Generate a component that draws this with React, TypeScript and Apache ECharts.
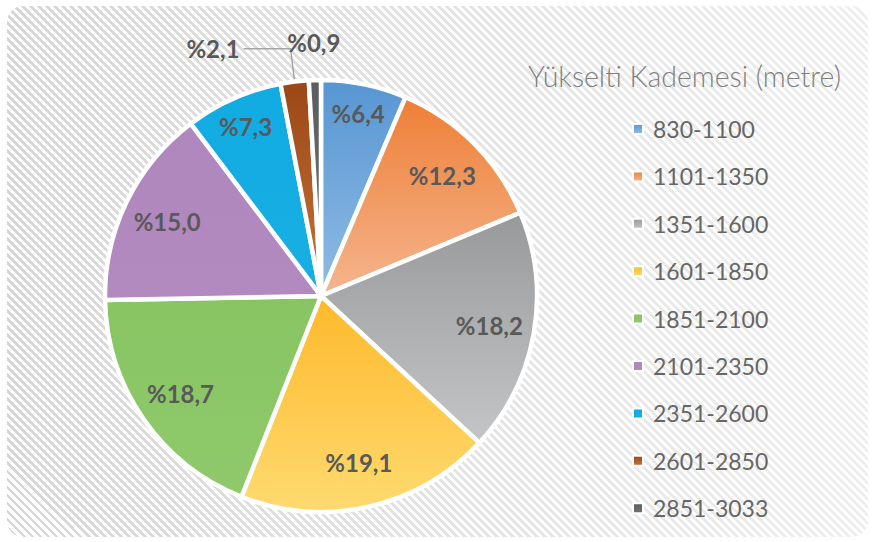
import React, { useEffect, useRef } from 'react';
import * as echarts from 'echarts';

const legendTitle = 'Yükselti Kademesi (metre)';
const categories = ['830-1100', '1101-1350', '1351-1600', '1601-1850', '1851-2100', '2101-2350', '2351-2600', '2601-2850', '2851-3033'];
const values = [6.4, 12.3, 18.2, 19.1, 18.7, 15.0, 7.3, 2.1, 0.9];
const topColors = ['#5796d3', '#ee7f36', '#97999a', '#fdb92b', '#88c562', '#b087bd', '#11abe2', '#9a4716', '#5a5e60'];
const bottomColors = ['#90bce4', '#f5b58e', '#c4c5c6', '#ffda70', '#8fc96c', '#b28abf', '#18afe3', '#c6733b', '#707476'];

// which label ring each slice's label belongs to
const outerRingLabels = [0, 6]; // labels placed farther from center
const midRingLabels = [1, 2, 3, 4, 5];
const leaderLabel = 7; // outside label with a leader line
const aboveLabel = 8; // label just above the pie, no line

const fmt = (v: number) => '%' + v.toFixed(1).replace('.', ',');

export default function App() {
  const ref = useRef<HTMLDivElement>(null);
  useEffect(() => {
    const chart = echarts.init(ref.current!, null, { renderer: 'svg' });
    const center = [321, 296];
    const R = 216;
    const labelFont = {
      fontFamily: 'Lato',
      fontWeight: 'bold' as const,
      fontSize: 24,
      color: '#595959',
      formatter: (p: any) => fmt(p.value),
    };
    const grad = (i: number) =>
      new echarts.graphic.LinearGradient(0, 0, 0, 1, [
        { offset: 0, color: topColors[i] },
        { offset: 1, color: bottomColors[i] },
      ]);
    const mainData = categories.map((name, i) => ({
      name,
      value: values[i],
      itemStyle: { color: grad(i) },
      label: i === leaderLabel ? { show: true } : { show: false },
      labelLine: i === leaderLabel ? { show: true, length: 33, length2: 47 } : { show: false },
    }));
    const overlay = (radius: number[], shown: number[]) => ({
      type: 'pie',
      center,
      radius,
      silent: true,
      avoidLabelOverlap: false,
      emphasis: { disabled: true },
      itemStyle: { color: 'rgba(0,0,0,0)', borderWidth: 0 },
      labelLine: { show: false },
      label: { show: true, position: 'inside', ...labelFont },
      data: categories.map((name, i) => ({
        name,
        value: values[i],
        label: { show: shown.includes(i) },
      })),
      z: 3,
    });
    chart.setOption({
      animation: false,
      backgroundColor: 'transparent',
      title: {
        text: legendTitle,
        left: 528,
        top: 61,
        padding: 0,
        textStyle: { fontFamily: 'Lato', fontWeight: 300, fontSize: 28.5, color: '#808080' },
      },
      legend: {
        orient: 'vertical',
        left: 627,
        top: 112,
        itemWidth: 10,
        itemHeight: 10,
        itemGap: 23.4,
        icon: 'rect',
        data: categories,
        selectedMode: false,
        textStyle: { fontFamily: 'Lato', fontSize: 23, lineHeight: 24, color: '#666666', padding: [0, 0, 0, 5] },
      },
      series: [
        {
          type: 'pie',
          center,
          radius: [0, R],
          startAngle: 90,
          clockwise: true,
          avoidLabelOverlap: false,
          emphasis: { disabled: true },
          itemStyle: { borderColor: '#ffffff', borderWidth: 4.5 },
          label: { show: false, position: 'outside', distanceToLabelLine: 4, ...labelFont },
          labelLine: { show: false, lineStyle: { color: '#a6a6a6', width: 1.5 } },
          data: mainData,
          z: 2,
        },
        overlay([150, R], outerRingLabels),
        overlay([120, R], midRingLabels),
        overlay([R, 286], [aboveLabel]),
      ],
    });
    return () => chart.dispose();
  }, []);

  return (
    <div style={{ position: 'absolute', left: 0, top: 0, width: 873, height: 542, background: '#ffffff' }}>
      <div
        style={{
          position: 'absolute',
          left: 7,
          top: 6,
          width: 861,
          height: 531,
          borderRadius: 16,
          backgroundImage:
            'linear-gradient(to right, rgba(255,255,255,0) 0%, rgba(255,255,255,0.6) 100%), repeating-linear-gradient(45deg, #d6d6d6 0px, #d6d6d6 2.8px, #ffffff 2.8px, #ffffff 5.66px)',
        }}
      />
      <div ref={ref} style={{ position: 'absolute', left: 0, top: 0, width: 873, height: 542 }} />
    </div>
  );
}
